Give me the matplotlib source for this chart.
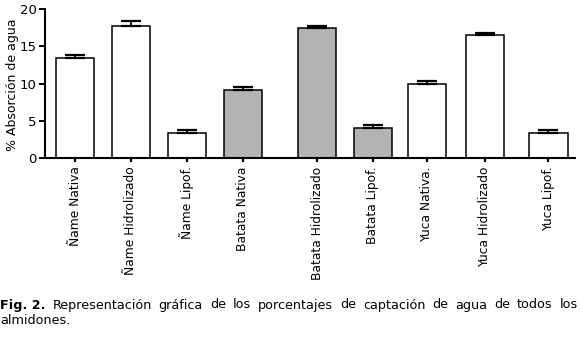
import numpy as np
import matplotlib.pyplot as plt

labels = ["Ñame Nativa", "Ñame Hidrolizado", "Ñame Lipof.", "Batata Nativa",
          "Batata Hidrolizado", "Batata Lipof.", "Yuca Nativa.", "Yuca Hidrolizado",
          "Yuca Lipof."]
absorcion = [13.4, 17.8, 3.3, 9.2, 17.4, 4.0, 9.9, 16.5, 3.3]
error = [0.4, 0.6, 0.4, 0.4, 0.4, 0.5, 0.5, 0.35, 0.4]
gris = [False, False, False, True, True, True, False, False, False]

# posiciones de las barras (con huecos como en el original)
pos = np.array([0, 1, 2, 3, 4.33, 5.32, 6.29, 7.32, 8.46])

plt.rcParams['font.family'] = 'DejaVu Sans'
fig = plt.figure(figsize=(5.8, 3.38), dpi=100)
ax = fig.add_axes([0.0776, 0.5325, 0.9134, 0.4405])

colores = ['#b3b3b3' if g else 'white' for g in gris]
ax.bar(pos, absorcion, width=0.68, color=colores, edgecolor='black',
       linewidth=1.1, zorder=2)
ax.errorbar(pos, absorcion, yerr=[np.zeros(len(error)), error], fmt='none',
            ecolor='black', elinewidth=1.3, capsize=7.5, capthick=1.6, zorder=3)

ax.set_xlim(-0.536, 8.93)
ax.set_ylim(0, 20)
ax.set_yticks([0, 5, 10, 15, 20])
ax.set_xticks(pos)
ax.set_xticklabels(labels, rotation=90, fontsize=8.8)
ax.tick_params(axis='y', labelsize=9.5, width=1.4, length=4, pad=2)
ax.tick_params(axis='x', width=1.6, length=3, pad=3)
ax.set_ylabel('% Absorción de agua', fontsize=9)
ax.yaxis.set_label_coords(-0.05, 0.49)

for s in ['top', 'right']:
    ax.spines[s].set_visible(False)
for s in ['left', 'bottom']:
    ax.spines[s].set_linewidth(1.5)

# pie de figura justificado
linea1 = "Representación gráfica de los porcentajes de captación de agua de todos los"
fs = 9.2
fig.canvas.draw()
r = fig.canvas.get_renderer()
W = fig.bbox.width
y1 = 1 - 305 / 338
t0 = fig.text(0, y1, "Fig. 2.", fontsize=fs, fontweight='bold', va='center')
w0 = t0.get_window_extent(r).width
palabras = linea1.split()
arts = [fig.text(0, y1, p, fontsize=fs, va='center') for p in palabras]
anchos = [a.get_window_extent(r).width for a in arts]
hueco = (W - 2 - w0 - sum(anchos)) / len(palabras)
x = w0 + hueco
for a, w in zip(arts, anchos):
    a.set_x(x / W)
    x += w + hueco
fig.text(0, 1 - 321 / 338, "almidones.", fontsize=fs, va='center')

fig.savefig('out.png', dpi=100)
